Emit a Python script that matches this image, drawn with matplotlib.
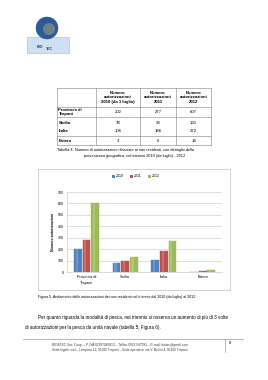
import numpy as np
import matplotlib
matplotlib.use("Agg")
import matplotlib.pyplot as plt
from matplotlib.patches import Rectangle, Circle

plt.rcParams['font.family'] = ['Liberation Sans', 'DejaVu Sans']

# data
regions = ["Provincia di\nTrapani", "Sicilia", "Italia", "Estero"]
table_rows = ["Provincia di\nTrapani", "Sicilia", "Italia", "Estero"]
years = ["2010", "2011", "2012"]
col_heads = ["Numero\nautorizzazioni\n2010 (da 1 luglio)",
             "Numero\nautorizzazioni\n2011",
             "Numero\nautorizzazioni\n2012"]
v2010 = [202, 78, 106, 3]
v2011 = [277, 93, 186, 6]
v2012 = [607, 131, 272, 14]
yticks = [0, 100, 200, 300, 400, 500, 600, 700]
colors = ["#4F81BD", "#C0504D", "#9BBB59"]

W, H = 268, 380
fig = plt.figure(figsize=(W / 100, H / 100), dpi=100)
fig.patch.set_facecolor("white")

# page canvas in pixel coords
pg = fig.add_axes([0, 0, 1, 1])
pg.set_xlim(0, W)
pg.set_ylim(H, 0)
pg.axis("off")

# logo
pg.add_patch(Rectangle((27, 37), 42, 16, facecolor="#cfe0f3", edgecolor="#9dbde3", lw=0.4))
pg.add_patch(Circle((47, 28), 11, facecolor="#2c5a9a", edgecolor="#1d3f70", lw=0.3))
pg.add_patch(Circle((49, 29), 6, facecolor="#9c9a7a", edgecolor="none", alpha=0.6))
pg.text(40, 47.5, "BIO", fontsize=2.6, color="#1d3f70", fontweight="bold", ha="center", va="center")
pg.text(50, 48.5, "TEC", fontsize=2.6, color="#1d3f70", fontweight="bold", ha="center", va="center")

# table
xs = [57, 96, 140, 176, 211]
ys = [88, 107, 117, 136, 145]
lc = "#7f7f7f"
for y in ys:
    pg.plot([xs[0], xs[-1]], [y, y], color=lc, lw=0.4)
for x in xs:
    pg.plot([x, x], [ys[0], ys[-1]], color=lc, lw=0.4)

tfs = 3.1
for j, h in enumerate(col_heads):
    pg.text((xs[j + 1] + xs[j + 2]) / 2, (ys[0] + ys[1]) / 2, h, fontsize=tfs,
            ha="center", va="center", linespacing=1.25, fontweight="bold")
row_y = [(ys[1] + ys[2]) / 2, 123, 131, (ys[3] + ys[4]) / 2]
for i, name in enumerate(table_rows):
    pg.text(xs[0] + 1.5, row_y[i], name, fontsize=tfs, ha="left", va="center",
            fontweight="bold", linespacing=1.1)
    for j, vals in enumerate([v2010, v2011, v2012]):
        pg.text((xs[j + 1] + xs[j + 2]) / 2, row_y[i] if i != 0 else ys[1] + 5,
                str(vals[i]), fontsize=tfs, ha="center", va="center")

pg.text(57, 150, "Tabella 4. Numero di autorizzazioni rilasciate ai non residenti, con dettaglio della",
        fontsize=2.8, ha="left", va="center")
pg.text(135, 156, "provenienza geografica, nel triennio 2010 (da luglio) - 2012",
        fontsize=2.8, ha="center", va="center")

# chart frame
pg.add_patch(Rectangle((38, 169), 192, 121, facecolor="none", edgecolor="#bfbfbf", lw=0.5))

# legend
for k, yr in enumerate(years):
    x0 = 112 + k * 18
    pg.add_patch(Rectangle((x0, 174.5), 3, 3, facecolor=colors[k], edgecolor="none"))
    pg.text(x0 + 4, 176, yr, fontsize=2.6, ha="left", va="center")

pg.text(38, 297, "Figura 5. Andamento delle autorizzazioni dei non residenti nel triennio dal 2010 (da luglio) al 2012.",
        fontsize=2.6, ha="left", va="center")

pg.text(38, 317, "Per quanto riguarda la modalità di pesca, nel triennio si osserva un aumento di più di 3 volte",
        fontsize=3.3, ha="left", va="center")
pg.text(25, 327, "di autorizzazioni per la pesca da unità navale (tabella 5, Figura 6).",
        fontsize=3.3, ha="left", va="center")

# footer
pg.plot([23, 243], [339, 339], color="#7f7f7f", lw=0.4)
pg.plot([225, 225], [339, 352], color="#7f7f7f", lw=0.4)
pg.text(229, 342.5, "8", fontsize=2.8, ha="left", va="center")
pg.text(120, 345, "BIO&TEC Soc. Coop. – P. IVA 02397040813 – Tel/fax 0923.547991 – E-mail: biotec@gmail.com",
        fontsize=2.3, ha="center", va="center", color="#404040")
pg.text(120, 350.5, "Sede legale: via L. Lampiasi 12, 91100 Trapani – Sede operativa: via V. Bellini 4, 91100 Trapani",
        fontsize=2.3, ha="center", va="center", color="#404040")

# bar chart
ax = fig.add_axes([67 / W, 1 - 272 / H, 155 / W, 80 / H])
x = np.arange(len(regions))
bw = 0.2
for k, vals in enumerate([v2010, v2011, v2012]):
    pos = x + (k - 1) * (bw + 0.02)
    ax.bar(pos, vals, bw, color=colors[k], edgecolor=colors[k], lw=0.3, zorder=3)
    # light stripe to hint the rounded look
    ax.bar(pos - bw * 0.15, vals, bw * 0.3, color="white", alpha=0.18, lw=0, zorder=4)
ax.set_xlim(-0.5, 3.5)
ax.set_ylim(0, 700)
ax.set_yticks(yticks)
ax.set_yticklabels([str(t) for t in yticks], fontsize=2.5)
ax.set_xticks(x)
ax.set_xticklabels(regions, fontsize=2.7, linespacing=1.6)
ax.tick_params(length=0, pad=2)
ax.grid(axis="y", color="#c8c8c8", lw=0.4, zorder=0)
for s in ["top", "right"]:
    ax.spines[s].set_visible(False)
ax.spines["left"].set_color("#bfbfbf")
ax.spines["bottom"].set_color("#bfbfbf")
ax.spines["left"].set_linewidth(0.4)
ax.spines["bottom"].set_linewidth(0.4)
ax.set_ylabel("Numero autorizzazioni", fontsize=2.5, fontweight="bold", labelpad=2)

fig.savefig("out.png", dpi=100)
